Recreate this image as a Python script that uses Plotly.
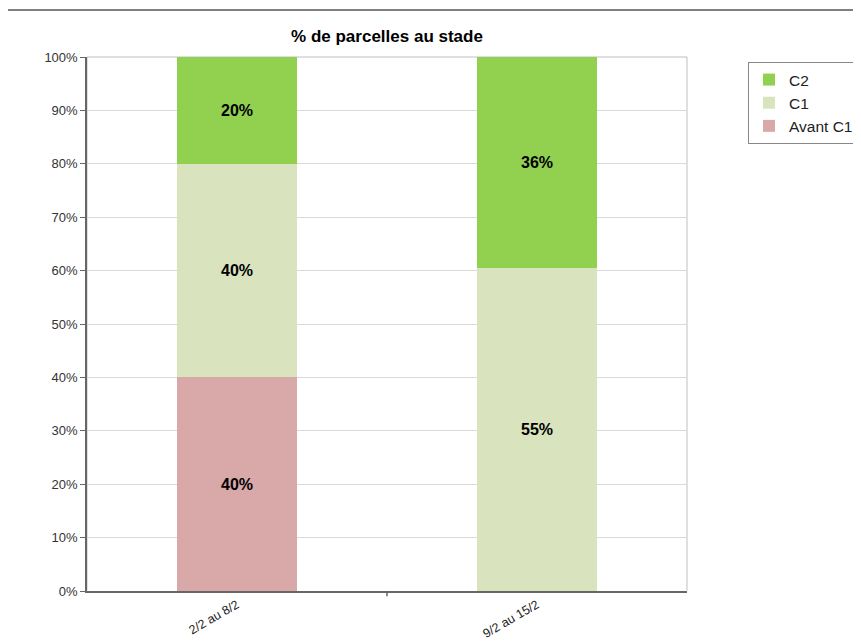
import plotly.graph_objects as go

categories = ["2/2 au 8/2", "9/2 au 15/2"]
avant_c1 = [40, 0]
c1 = [40, 55]
c2 = [20, 36]
series = [("Avant C1", avant_c1, "#D9A8A8"), ("C1", c1, "#D9E4BF"), ("C2", c2, "#92D050")]
y_ticks = list(range(0, 101, 10))

W, H = 853, 633
L, T, PW, PH = 79, 49, 600, 534

fig = go.Figure()
for name, vals, color in series:
    fig.add_trace(go.Bar(
        x=categories, y=vals, name=name, marker=dict(color=color, line=dict(width=0)),
        text=[f"{v}%" if v else "" for v in vals], textposition="inside",
        insidetextanchor="middle",
        textfont=dict(family="Liberation Sans, Arial", size=16, color="black", weight="bold"),
        hoverinfo="skip",
    ))

fig.update_layout(
    barmode="stack", barnorm="percent", bargap=0.6,
    width=W, height=H,
    margin=dict(l=L, r=W - L - PW, t=T, b=H - T - PH, autoexpand=False),
    paper_bgcolor="white", plot_bgcolor="white",
    font=dict(family="Liberation Sans, Arial", size=13, color="#333"),
    title=dict(text="<b>% de parcelles au stade</b>", x=379/W, xanchor="center",
               y=1-28/H, yanchor="middle", font=dict(size=17, color="black"),
               automargin=False),
    legend=dict(x=740/W, y=1-54/H, xref="container", yref="container",
                xanchor="left", yanchor="top", traceorder="reversed",
                bordercolor="#888", borderwidth=1, bgcolor="white",
                font=dict(size=15.5, color="#222"), itemwidth=30, tracegroupgap=0),
    uniformtext=dict(minsize=10, mode="show"),
)
fig.update_xaxes(showline=True, linecolor="#666", linewidth=1.5, mirror=False,
                 tickangle=-30, tickfont=dict(size=12.5, color="#222"),
                 showgrid=False, ticks="", ticklabelstandoff=0, automargin=False)
fig.update_yaxes(range=[0, 100], tickvals=y_ticks, ticktext=[f"{v}%" for v in y_ticks],
                 showline=True, linecolor="#666", linewidth=1.5, ticks="outside",
                 ticklen=5, tickcolor="#666", showgrid=True, gridcolor="#D9D9D9",
                 tickfont=dict(size=13, color="#333"), automargin=False)
# plot-area border (top/right)
fig.add_shape(type="rect", xref="paper", yref="paper", x0=0, y0=0, x1=1, y1=1,
              line=dict(color="#BFBFBF", width=1), layer="below")
# category separator tick
fig.add_shape(type="line", xref="paper", yref="paper", x0=0.5, x1=0.5, y0=0, y1=-0.01,
              line=dict(color="#666", width=1.5))
# top rule line
fig.add_shape(type="line", xref="paper", yref="paper", x0=-L/PW, x1=(W-L)/PW,
              y0=1 + (T-2)/PH, y1=1 + (T-2)/PH, line=dict(color="#555", width=1.5))

fig.write_html("out.html")
